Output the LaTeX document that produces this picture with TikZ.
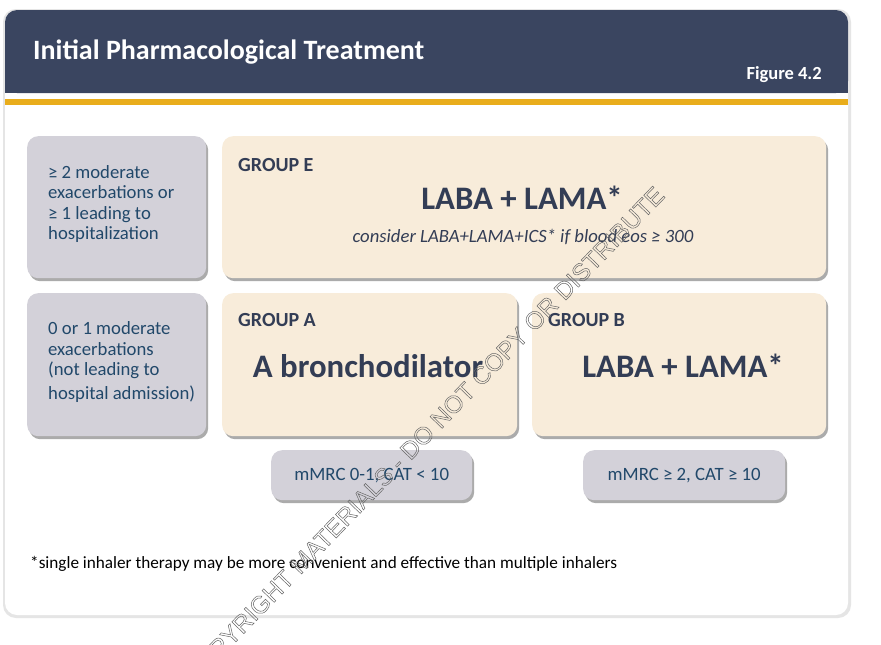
\documentclass[tikz,border=0pt]{standalone}
\usepackage{fontspec}
\setmainfont{Carlito}
\newfontfamily\wmfont{Liberation Sans}
\usetikzlibrary{shadows}
\definecolor{navy}{HTML}{3A4560}
\definecolor{gold}{HTML}{E9AD1C}
\definecolor{cream}{HTML}{F8ECDA}
\definecolor{grayb}{HTML}{D3D1D9}
\definecolor{txtd}{HTML}{333D55}
\definecolor{txtb}{HTML}{21486A}
\tikzset{
  boxshadow/.style={drop shadow={shadow xshift=2pt,shadow yshift=-3pt,fill=black!55,opacity=0.6}},
  critbox/.style={fill=grayb,rounded corners=11pt,boxshadow,anchor=north west,inner sep=0pt},
  grpbox/.style={fill=cream,rounded corners=11pt,boxshadow,anchor=north west,inner sep=0pt},
  crittext/.style={text=txtb,font=\fontsize{18.7}{20.5}\selectfont,align=left,anchor=west,inner sep=0pt},
  grplabel/.style={text=txtd,font=\fontsize{20}{22}\selectfont\bfseries,anchor=west,inner sep=0pt},
  bigtext/.style={text=txtd,font=\fontsize{32.8}{34}\selectfont\bfseries,inner sep=0pt},
  scoretext/.style={text=txtb,font=\fontsize{18.8}{20}\selectfont,inner sep=0pt}
}
\begin{document}
\begin{tikzpicture}[x=1pt,y=-1pt]
\useasboundingbox (0,0) rectangle (881,645);
\fill[white] (0,0) rectangle (881,645);
% card
\fill[black!10,rounded corners=13pt] (3,9) rectangle (851,618);
\fill[white,rounded corners=12pt] (5,10) rectangle (848,615);
% header
\fill[navy,rounded corners=12pt] (5,10) rectangle (848,93);
\fill[navy] (5,50) rectangle (848,93);
\fill[gold] (5,99) rectangle (848,105);
\node[text=white,font=\fontsize{28}{30}\selectfont\bfseries,anchor=west,inner sep=0pt] (title) at (33,52) {Initial Pharmacological Treatment};
\node[text=white,font=\fontsize{18.5}{20}\selectfont\bfseries,anchor=east,inner sep=0pt] (fig) at (822,75) {Figure 4.2};
% boxes
\node[critbox,minimum width=179pt,minimum height=142pt] (c1) at (27,136) {};
\node[grpbox,minimum width=604pt,minimum height=142pt] (ge) at (222,136) {};
\node[critbox,minimum width=179pt,minimum height=143pt] (c2) at (27,293) {};
\node[grpbox,minimum width=295pt,minimum height=143pt] (ga) at (222,293) {};
\node[grpbox,minimum width=294pt,minimum height=143pt] (gb) at (532,293) {};
\node[critbox,minimum width=201pt,minimum height=50pt] (s1) at (271,450) {};
\node[critbox,minimum width=202pt,minimum height=50pt] (s2) at (583,450) {};
% texts
\node[crittext] (c1t) at (48,204) {≥ 2 moderate\\exacerbations or\\≥ 1 leading to\\hospitalization};
\node[crittext] (c2t) at (48,362) {0 or 1 moderate\\exacerbations\\(not leading to\\[3pt]hospital admission)};
\node[grplabel] (gel) at (238,165) {GROUP E};
\node[grplabel] (gal) at (238,320) {GROUP A};
\node[grplabel] (gbl) at (548,320) {GROUP B};
\node[bigtext] (get) at (522,198) {LABA + LAMA*};
\node[text=txtd,font=\fontsize{18.7}{20}\selectfont\itshape,inner sep=0pt] (gec) at (523,237) {consider LABA+LAMA+ICS* if blood eos ≥ 300};
\node[bigtext] (gat) at (368,366) {A bronchodilator};
\node[bigtext] (gbt) at (683,366) {LABA + LAMA*};
\node[scoretext] (s1t) at (s1.center) {mMRC 0-1, CAT < 10};
\node[scoretext] (s2t) at (s2.center) {mMRC ≥ 2, CAT ≥ 10};
\node[text=black,font=\fontsize{17.2}{19}\selectfont,anchor=west,inner sep=0pt] (foot) at (30,564) {*single inhaler therapy may be more convenient and effective than multiple inhalers};
% watermark
\begin{scope}
\clip (0,0) rectangle (881,645);
\node[text=black!60,font=\wmfont\fontsize{24.5}{26}\selectfont,rotate=46,inner sep=0pt] (wm) at (424,435) {\special{pdf:literal direct 1 Tr 0.5 w}COPYRIGHT MATERIALS - DO NOT COPY OR DISTRIBUTE\special{pdf:literal direct 0 Tr}};
\end{scope}
\end{tikzpicture}
\end{document}
